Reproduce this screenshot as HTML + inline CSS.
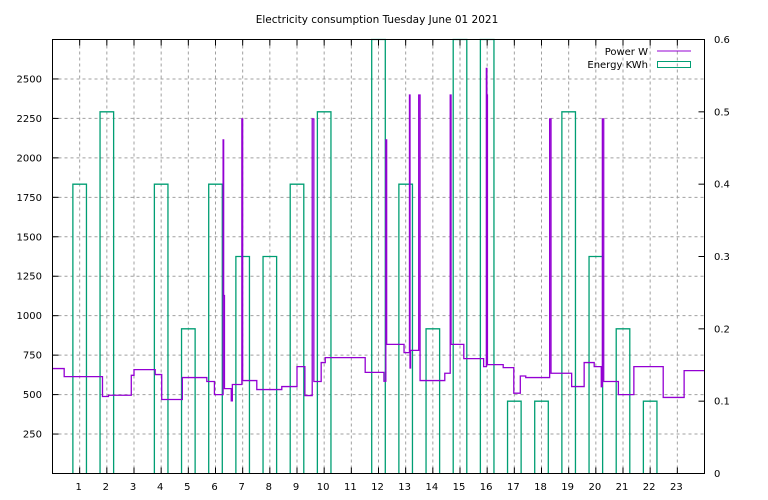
<!DOCTYPE html>
<html><head><meta charset="utf-8"><style>
body{margin:0;background:#fff;}
svg{display:block;font-family:"DejaVu Sans","Liberation Sans",sans-serif;font-size:10px;}
</style></head><body>
<svg id="chart" width="768" height="500" xmlns="http://www.w3.org/2000/svg">
<rect width="768" height="500" fill="#fff"/>
<text x="377" y="23" text-anchor="middle" font-size="10.5">Electricity consumption Tuesday June 01 2021</text>
<g id="grid"></g><g id="energy"></g><g id="power"></g><g id="axes"></g>
<g>
<text x="648" y="55" text-anchor="end">Power W</text>
<line x1="657" y1="51" x2="691" y2="51" stroke="#9400d3" stroke-width="1"/>
<text x="648" y="68" text-anchor="end">Energy KWh</text>
<rect x="657.5" y="61.5" width="33" height="6" fill="none" stroke="#009e73" stroke-width="1"/>
</g>
</svg>
<script>
const hourTicks=[1,2,3,4,5,6,7,8,9,10,11,12,13,14,15,16,17,18,19,20,21,22,23];
const wattTicks=[250,500,750,1000,1250,1500,1750,2000,2250,2500];
const kwhTicks=[0,0.1,0.2,0.3,0.4,0.5,0.6];
const energyHours=[1,2,4,5,6,7,8,9,10,12,13,14,15,16,17,18,19,20,21,22];
const energyKwh=[0.4,0.5,0.4,0.2,0.4,0.3,0.3,0.4,0.5,0.7,0.4,0.2,0.7,0.7,0.1,0.1,0.5,0.3,0.2,0.1];
const powerTimes=[0,0.43,1.84,2.06,2.9,3.0,3.78,4.02,4.78,5.68,5.96,6.28,6.30,6.33,6.58,6.62,6.97,7.0,7.52,8.44,9.0,9.29,9.56,9.62,9.89,10.04,11.51,12.2,12.27,12.3,12.94,13.14,13.16,13.18,13.48,13.53,14.44,14.64,14.67,15.14,15.87,15.97,15.99,16.01,16.59,16.98,17.22,17.42,18.3,18.35,19.11,19.57,19.94,20.2,20.24,20.29,20.83,21.4,22.48,23.25];
const powerWatts=[665,614,488,496,622,658,627,469,608,583,500,2114,1128,538,460,564,2247,589,532,551,677,494,2247,583,703,734,641,585,2114,818,766,2398,669,780,2398,589,635,2398,818,728,677,2567,2398,690,671,509,618,608,2247,635,551,703,677,550,2247,583,500,677,482,652];
const endTime=24;
const L=52.5,R=704.5,T=39.5,B=473.5;
const X=t=>L+t*(R-L)/24;
const YL=w=>B-w*(B-T)/2750;
const YR=k=>B-k*(B-T)/0.6;
const NS="http://www.w3.org/2000/svg";
function mk(tag,parent,attrs){const e=document.createElementNS(NS,tag);for(const k in attrs)e.setAttribute(k,attrs[k]);parent.appendChild(e);return e;}
const grid=document.getElementById('grid'),axes=document.getElementById('axes');
hourTicks.forEach(h=>{
  const l=mk('line',grid,{x1:X(h),x2:X(h),y1:T,y2:B,stroke:'#a0a0a0','stroke-dasharray':'3,3','stroke-width':1});
  
  
  const tk=mk('path',axes,{d:`M${X(h)},${B}v-6M${X(h)},${T}v6`,stroke:'#000','stroke-width':1});
  
  
  const tx=mk('text',axes,{x:X(h)-1,y:490,'text-anchor':'middle'});tx.textContent=h;
  
  
});
wattTicks.forEach(w=>{
  const l=mk('line',grid,{x1:L,x2:R,y1:YL(w),y2:YL(w),stroke:'#a0a0a0','stroke-dasharray':'3,3','stroke-width':1});
  
  
  const tk=mk('path',axes,{d:`M${L},${YL(w)}h6`,stroke:'#000','stroke-width':1});
  
  
  const tx=mk('text',axes,{x:42,y:YL(w)+3.5,'text-anchor':'end'});tx.textContent=w;
  
  
});
kwhTicks.forEach(k=>{
  const tk=mk('path',axes,{d:`M${R},${YR(k)}h-6`,stroke:'#000','stroke-width':1});
  
  
  const tx=mk('text',axes,{x:714,y:YR(k)+3.5,'text-anchor':'start'});tx.textContent=k;
  
  
});
const frame=mk('rect',axes,{x:L,y:T,width:R-L,height:B-T,fill:'none',stroke:'#000','stroke-width':1});


const eg=document.getElementById('energy');


const hw=0.25*(R-L)/24;
energyHours.forEach((h,i)=>{
  const top=Math.max(YR(energyKwh[i]),T);
  const x0=X(h)-hw,x1=X(h)+hw;
  const p=mk('path',eg,{d:`M${x0},${B}V${top}H${x1}V${B}`,fill:'none',stroke:'#009e73','stroke-width':1.3});
  
  
});
const pg=document.getElementById('power');
let d=`M${X(powerTimes[0])},${YL(powerWatts[0])}`;
for(let i=0;i<powerTimes.length;i++){
  const next=i+1<powerTimes.length?powerTimes[i+1]:endTime;
  d+=`V${YL(powerWatts[i])}H${X(next)}`;
}
const pl=mk('path',pg,{d:d,fill:'none',stroke:'#9400d3','stroke-width':1.3});


</script>
</body></html>
